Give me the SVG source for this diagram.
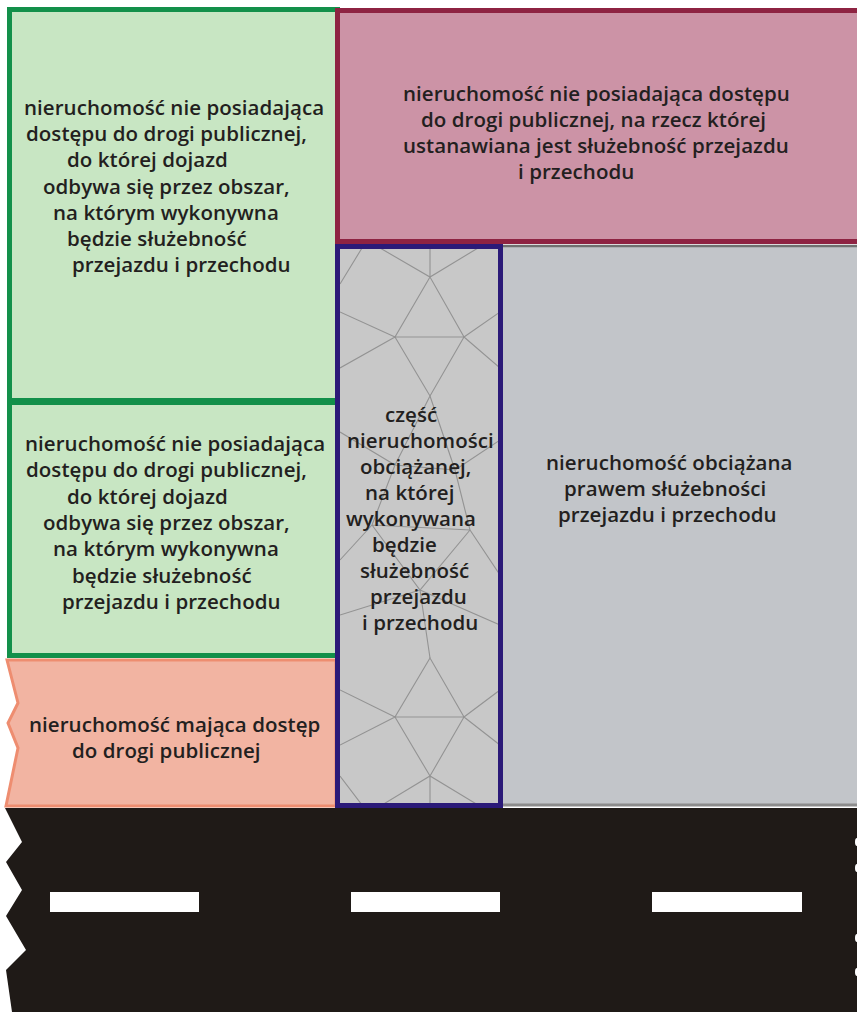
<svg xmlns="http://www.w3.org/2000/svg" width="857" height="1012" viewBox="0 0 857 1012">
<defs>
<style>
.t{font-family:"Open Sans","Noto Sans",sans-serif;font-size:20.5px;font-weight:600;fill:#231f20;letter-spacing:0.05px}
.green{fill:#c8e6c3;stroke:#13904a;stroke-width:5}
.mesh{fill:none;stroke:#939393;stroke-width:1.1}
</style>
<clipPath id="blueclip"><rect x="340" y="249" width="158" height="554"/></clipPath>
</defs>
<rect x="0" y="0" width="857" height="1012" fill="#ffffff"/>

<g id="green-top">
<rect class="green" x="9.5" y="9.5" width="328" height="391"/>
<text class="t" x="24" y="115">nieruchomość nie posiadająca</text>
<text class="t" x="26" y="141">dostępu do drogi publicznej,</text>
<text class="t" x="67" y="167">do której dojazd</text>
<text class="t" x="43" y="194">odbywa się przez obszar,</text>
<text class="t" x="53" y="220">na którym wykonywna</text>
<text class="t" x="67" y="246">będzie służebność</text>
<text class="t" x="72" y="272">przejazdu i przechodu</text>
</g>

<g id="green-bottom">
<rect class="green" x="9.5" y="402.5" width="328" height="253"/>
<text class="t" x="25" y="451">nieruchomość nie posiadająca</text>
<text class="t" x="26" y="477">dostępu do drogi publicznej,</text>
<text class="t" x="67" y="504">do której dojazd</text>
<text class="t" x="43" y="530">odbywa się przez obszar,</text>
<text class="t" x="53" y="556">na którym wykonywna</text>
<text class="t" x="72" y="583">będzie służebność</text>
<text class="t" x="62" y="609">przejazdu i przechodu</text>
</g>

<g id="salmon">
<path d="M7,660 L18,703 L8,723 L18,748 L6,806 L336,806 L336,660 Z" fill="#f2b4a2" stroke="#ee8d70" stroke-width="3"/>
<text class="t" x="29" y="732">nieruchomość mająca dostęp</text>
<text class="t" x="72" y="758">do drogi publicznej</text>
</g>

<g id="gray">
<rect x="500" y="245" width="360" height="561" fill="#c2c5c9"/>
<line x1="500" y1="246" x2="857" y2="246" stroke="#707070" stroke-width="2.5"/>
<line x1="500" y1="805" x2="857" y2="805" stroke="#8c8c8c" stroke-width="3"/>
<text class="t" x="546" y="470">nieruchomość obciążana</text>
<text class="t" x="564" y="496">prawem służebności</text>
<text class="t" x="558" y="522">przejazdu i przechodu</text>
</g>

<g id="pink">
<rect x="337.5" y="10.5" width="530" height="231" fill="#cc93a6" stroke="#8e2342" stroke-width="5"/>
<text class="t" x="403" y="101">nieruchomość nie posiadająca dostępu</text>
<text class="t" x="421" y="127">do drogi publicznej, na rzecz której</text>
<text class="t" x="403" y="153">ustanawiana jest służebność przejazdu</text>
<text class="t" x="518" y="179">i przechodu</text>
</g>

<g id="blue">
<rect x="337.5" y="246.5" width="163" height="559" fill="#c8c8c8"/>
<g class="mesh" clip-path="url(#blueclip)">
<path d="M430,248 L430,277 M380,248 L430,277 L478,248 M362,248 L340,284 M430,277 L395,337 L464,337 Z M395,337 L430,396 L464,337 M395,337 L340,312 M395,337 L340,368 M464,337 L500,312 M464,337 L500,368"/>
<path d="M430,396 L395,465 L455,470 Z M395,465 L340,432 M455,470 L500,440 M395,465 L372,525 L470,530 L455,470 M372,525 L340,560 M470,530 L500,575 M372,525 L420,590 L470,530 M420,590 L430,658 M420,590 L340,615 M420,590 L500,625"/>
<path d="M430,658 L395,717 L464,717 Z M395,717 L430,776 L464,717 M395,717 L340,690 M395,717 L340,745 M464,717 L500,690 M464,717 L500,745 M430,776 L430,805 M382,805 L430,776 L478,805 M340,776 L362,805"/>
</g>
<rect x="337.5" y="246.5" width="163" height="559" fill="none" stroke="#2b1a78" stroke-width="5"/>
<text class="t" x="385" y="422">część</text>
<text class="t" x="347" y="448">nieruchomości</text>
<text class="t" x="360" y="474">obciążanej,</text>
<text class="t" x="365" y="500">na której</text>
<text class="t" x="346" y="526">wykonywana</text>
<text class="t" x="372" y="552">będzie</text>
<text class="t" x="360" y="578">służebność</text>
<text class="t" x="370" y="604">przejazdu</text>
<text class="t" x="362" y="630">i przechodu</text>
</g>

<g id="road">
<path d="M5,808 L857,808 L857,1012 L12,1012 L6,970 L26,950 L6,916 L22,890 L6,862 L22,842 Z" fill="#1f1a17"/>
<rect x="50" y="892" width="149" height="20" fill="#ffffff"/>
<rect x="351" y="892" width="149" height="20" fill="#ffffff"/>
<rect x="652" y="892" width="150" height="20" fill="#ffffff"/>
<ellipse cx="857" cy="842" rx="2" ry="4" fill="#ffffff"/>
<ellipse cx="857" cy="868" rx="2" ry="4" fill="#ffffff"/>
<ellipse cx="857" cy="938" rx="2" ry="4" fill="#ffffff"/>
<ellipse cx="857" cy="972" rx="2" ry="4" fill="#ffffff"/>
</g>

<g id="connectors"/>
</svg>
